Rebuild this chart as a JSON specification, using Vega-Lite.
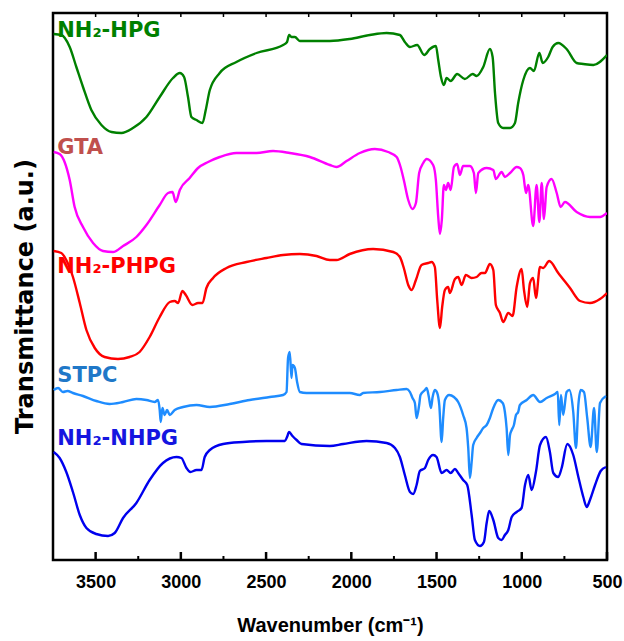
{
"$schema":"https://vega.github.io/schema/vega-lite/v6.json",
"width":554,"height":547,"autosize":"none",
"padding":{"left":53,"top":13,"right":17,"bottom":81},
"background":"white",
"config":{"view":{"stroke":"black","strokeWidth":2.5}},
"datasets":{
"ticks":[
{"w":500,"k":"major"},{"w":750,"k":"minor"},{"w":1000,"k":"major"},{"w":1250,"k":"minor"},{"w":1500,"k":"major"},{"w":1750,"k":"minor"},{"w":2000,"k":"major"},{"w":2250,"k":"minor"},{"w":2500,"k":"major"},{"w":2750,"k":"minor"},{"w":3000,"k":"major"},{"w":3250,"k":"minor"},{"w":3500,"k":"major"}
],
"labels":[
{"label":"NH₂-HPG","s":"HPG","w":3725,"t":523},
{"label":"GTA","s":"GTA","w":3725,"t":406},
{"label":"NH₂-PHPG","s":"PHPG","w":3725,"t":287},
{"label":"STPC","s":"STPC","w":3725,"t":178},
{"label":"NH₂-NHPG","s":"NHPG","w":3725,"t":115}
],
"spectra":[
{"s":"HPG","w":3746,"t":526},{"s":"HPG","w":3701,"t":525},{"s":"HPG","w":3652,"t":513},{"s":"HPG","w":3613,"t":493},{"s":"HPG","w":3574,"t":473},{"s":"HPG","w":3525,"t":450},{"s":"HPG","w":3466,"t":435},{"s":"HPG","w":3407,"t":428},{"s":"HPG","w":3349,"t":427},{"s":"HPG","w":3281,"t":432},{"s":"HPG","w":3202,"t":443},{"s":"HPG","w":3124,"t":463},{"s":"HPG","w":3046,"t":482},{"s":"HPG","w":3006,"t":487},{"s":"HPG","w":2981,"t":483},{"s":"HPG","w":2958,"t":463},{"s":"HPG","w":2938,"t":443},{"s":"HPG","w":2908,"t":440},{"s":"HPG","w":2873,"t":437},{"s":"HPG","w":2854,"t":450},{"s":"HPG","w":2830,"t":470},{"s":"HPG","w":2772,"t":487},{"s":"HPG","w":2674,"t":498},{"s":"HPG","w":2556,"t":507},{"s":"HPG","w":2400,"t":515},{"s":"HPG","w":2377,"t":518},{"s":"HPG","w":2365,"t":525},{"s":"HPG","w":2351,"t":523},{"s":"HPG","w":2331,"t":523},{"s":"HPG","w":2302,"t":519},{"s":"HPG","w":2204,"t":519},{"s":"HPG","w":2126,"t":519},{"s":"HPG","w":2009,"t":521},{"s":"HPG","w":1891,"t":525},{"s":"HPG","w":1793,"t":527},{"s":"HPG","w":1715,"t":525},{"s":"HPG","w":1686,"t":518},{"s":"HPG","w":1656,"t":513},{"s":"HPG","w":1614,"t":515},{"s":"HPG","w":1572,"t":505},{"s":"HPG","w":1539,"t":511},{"s":"HPG","w":1504,"t":514},{"s":"HPG","w":1490,"t":500},{"s":"HPG","w":1474,"t":483},{"s":"HPG","w":1457,"t":475},{"s":"HPG","w":1441,"t":482},{"s":"HPG","w":1417,"t":479},{"s":"HPG","w":1379,"t":486},{"s":"HPG","w":1334,"t":481},{"s":"HPG","w":1288,"t":486},{"s":"HPG","w":1265,"t":484},{"s":"HPG","w":1226,"t":493},{"s":"HPG","w":1187,"t":511},{"s":"HPG","w":1171,"t":503},{"s":"HPG","w":1157,"t":467},{"s":"HPG","w":1138,"t":437},{"s":"HPG","w":1109,"t":432},{"s":"HPG","w":1069,"t":432},{"s":"HPG","w":1040,"t":437},{"s":"HPG","w":1021,"t":457},{"s":"HPG","w":991,"t":480},{"s":"HPG","w":952,"t":492},{"s":"HPG","w":929,"t":489},{"s":"HPG","w":897,"t":507},{"s":"HPG","w":877,"t":497},{"s":"HPG","w":845,"t":503},{"s":"HPG","w":819,"t":513},{"s":"HPG","w":786,"t":517},{"s":"HPG","w":737,"t":511},{"s":"HPG","w":678,"t":497},{"s":"HPG","w":639,"t":496},{"s":"HPG","w":580,"t":495},{"s":"HPG","w":500,"t":505},
{"s":"GTA","w":3746,"t":408},{"s":"GTA","w":3711,"t":406},{"s":"GTA","w":3682,"t":398},{"s":"GTA","w":3652,"t":380},{"s":"GTA","w":3623,"t":353},{"s":"GTA","w":3574,"t":333},{"s":"GTA","w":3515,"t":317},{"s":"GTA","w":3457,"t":309},{"s":"GTA","w":3398,"t":308},{"s":"GTA","w":3339,"t":314},{"s":"GTA","w":3261,"t":323},{"s":"GTA","w":3202,"t":335},{"s":"GTA","w":3124,"t":355},{"s":"GTA","w":3075,"t":367},{"s":"GTA","w":3049,"t":368},{"s":"GTA","w":3030,"t":358},{"s":"GTA","w":3006,"t":370},{"s":"GTA","w":2948,"t":382},{"s":"GTA","w":2899,"t":392},{"s":"GTA","w":2840,"t":398},{"s":"GTA","w":2772,"t":403},{"s":"GTA","w":2674,"t":407},{"s":"GTA","w":2556,"t":407},{"s":"GTA","w":2459,"t":409},{"s":"GTA","w":2361,"t":407},{"s":"GTA","w":2243,"t":403},{"s":"GTA","w":2126,"t":395},{"s":"GTA","w":2087,"t":393},{"s":"GTA","w":2028,"t":399},{"s":"GTA","w":1950,"t":407},{"s":"GTA","w":1862,"t":411},{"s":"GTA","w":1784,"t":408},{"s":"GTA","w":1734,"t":403},{"s":"GTA","w":1711,"t":393},{"s":"GTA","w":1692,"t":380},{"s":"GTA","w":1666,"t":360},{"s":"GTA","w":1641,"t":351},{"s":"GTA","w":1621,"t":357},{"s":"GTA","w":1602,"t":387},{"s":"GTA","w":1578,"t":397},{"s":"GTA","w":1558,"t":401},{"s":"GTA","w":1520,"t":395},{"s":"GTA","w":1504,"t":380},{"s":"GTA","w":1490,"t":343},{"s":"GTA","w":1480,"t":326},{"s":"GTA","w":1469,"t":340},{"s":"GTA","w":1457,"t":375},{"s":"GTA","w":1445,"t":370},{"s":"GTA","w":1432,"t":377},{"s":"GTA","w":1417,"t":370},{"s":"GTA","w":1398,"t":393},{"s":"GTA","w":1379,"t":396},{"s":"GTA","w":1363,"t":385},{"s":"GTA","w":1344,"t":394},{"s":"GTA","w":1304,"t":394},{"s":"GTA","w":1281,"t":387},{"s":"GTA","w":1269,"t":367},{"s":"GTA","w":1255,"t":387},{"s":"GTA","w":1206,"t":392},{"s":"GTA","w":1167,"t":390},{"s":"GTA","w":1152,"t":381},{"s":"GTA","w":1118,"t":388},{"s":"GTA","w":1099,"t":383},{"s":"GTA","w":1069,"t":387},{"s":"GTA","w":1030,"t":393},{"s":"GTA","w":1011,"t":392},{"s":"GTA","w":991,"t":385},{"s":"GTA","w":975,"t":367},{"s":"GTA","w":962,"t":375},{"s":"GTA","w":933,"t":334},{"s":"GTA","w":913,"t":375},{"s":"GTA","w":897,"t":338},{"s":"GTA","w":883,"t":377},{"s":"GTA","w":870,"t":341},{"s":"GTA","w":854,"t":373},{"s":"GTA","w":825,"t":381},{"s":"GTA","w":795,"t":367},{"s":"GTA","w":772,"t":353},{"s":"GTA","w":747,"t":358},{"s":"GTA","w":678,"t":348},{"s":"GTA","w":600,"t":343},{"s":"GTA","w":541,"t":343},{"s":"GTA","w":500,"t":347},
{"s":"PHPG","w":3746,"t":309},{"s":"PHPG","w":3701,"t":307},{"s":"PHPG","w":3672,"t":300},{"s":"PHPG","w":3633,"t":283},{"s":"PHPG","w":3593,"t":257},{"s":"PHPG","w":3554,"t":230},{"s":"PHPG","w":3505,"t":212},{"s":"PHPG","w":3447,"t":203},{"s":"PHPG","w":3369,"t":201},{"s":"PHPG","w":3301,"t":203},{"s":"PHPG","w":3242,"t":208},{"s":"PHPG","w":3183,"t":223},{"s":"PHPG","w":3124,"t":243},{"s":"PHPG","w":3065,"t":258},{"s":"PHPG","w":3036,"t":259},{"s":"PHPG","w":3016,"t":257},{"s":"PHPG","w":2991,"t":269},{"s":"PHPG","w":2971,"t":265},{"s":"PHPG","w":2932,"t":255},{"s":"PHPG","w":2899,"t":257},{"s":"PHPG","w":2873,"t":257},{"s":"PHPG","w":2850,"t":272},{"s":"PHPG","w":2811,"t":282},{"s":"PHPG","w":2732,"t":292},{"s":"PHPG","w":2615,"t":298},{"s":"PHPG","w":2498,"t":302},{"s":"PHPG","w":2400,"t":305},{"s":"PHPG","w":2302,"t":306},{"s":"PHPG","w":2204,"t":304},{"s":"PHPG","w":2126,"t":300},{"s":"PHPG","w":2087,"t":300},{"s":"PHPG","w":2009,"t":306},{"s":"PHPG","w":1872,"t":311},{"s":"PHPG","w":1754,"t":308},{"s":"PHPG","w":1715,"t":303},{"s":"PHPG","w":1692,"t":292},{"s":"PHPG","w":1666,"t":275},{"s":"PHPG","w":1646,"t":270},{"s":"PHPG","w":1621,"t":280},{"s":"PHPG","w":1588,"t":295},{"s":"PHPG","w":1549,"t":297},{"s":"PHPG","w":1529,"t":298},{"s":"PHPG","w":1510,"t":293},{"s":"PHPG","w":1496,"t":260},{"s":"PHPG","w":1480,"t":232},{"s":"PHPG","w":1467,"t":253},{"s":"PHPG","w":1451,"t":270},{"s":"PHPG","w":1432,"t":273},{"s":"PHPG","w":1422,"t":267},{"s":"PHPG","w":1392,"t":281},{"s":"PHPG","w":1373,"t":283},{"s":"PHPG","w":1353,"t":275},{"s":"PHPG","w":1328,"t":285},{"s":"PHPG","w":1294,"t":282},{"s":"PHPG","w":1265,"t":283},{"s":"PHPG","w":1236,"t":287},{"s":"PHPG","w":1216,"t":287},{"s":"PHPG","w":1187,"t":296},{"s":"PHPG","w":1167,"t":290},{"s":"PHPG","w":1152,"t":255},{"s":"PHPG","w":1128,"t":247},{"s":"PHPG","w":1109,"t":238},{"s":"PHPG","w":1079,"t":247},{"s":"PHPG","w":1054,"t":244},{"s":"PHPG","w":1030,"t":273},{"s":"PHPG","w":1001,"t":291},{"s":"PHPG","w":987,"t":270},{"s":"PHPG","w":968,"t":253},{"s":"PHPG","w":952,"t":277},{"s":"PHPG","w":933,"t":282},{"s":"PHPG","w":917,"t":262},{"s":"PHPG","w":893,"t":293},{"s":"PHPG","w":874,"t":292},{"s":"PHPG","w":839,"t":299},{"s":"PHPG","w":786,"t":287},{"s":"PHPG","w":717,"t":272},{"s":"PHPG","w":658,"t":259},{"s":"PHPG","w":600,"t":257},{"s":"PHPG","w":541,"t":261},{"s":"PHPG","w":500,"t":267},
{"s":"STPC","w":3746,"t":170},{"s":"STPC","w":3720,"t":172},{"s":"STPC","w":3692,"t":168},{"s":"STPC","w":3665,"t":169},{"s":"STPC","w":3633,"t":167},{"s":"STPC","w":3574,"t":164},{"s":"STPC","w":3496,"t":159},{"s":"STPC","w":3418,"t":156},{"s":"STPC","w":3339,"t":158},{"s":"STPC","w":3261,"t":161},{"s":"STPC","w":3202,"t":160},{"s":"STPC","w":3153,"t":158},{"s":"STPC","w":3134,"t":160},{"s":"STPC","w":3124,"t":150},{"s":"STPC","w":3118,"t":138},{"s":"STPC","w":3108,"t":152},{"s":"STPC","w":3095,"t":145},{"s":"STPC","w":3081,"t":150},{"s":"STPC","w":3065,"t":145},{"s":"STPC","w":3036,"t":150},{"s":"STPC","w":2987,"t":153},{"s":"STPC","w":2908,"t":155},{"s":"STPC","w":2830,"t":153},{"s":"STPC","w":2713,"t":156},{"s":"STPC","w":2596,"t":160},{"s":"STPC","w":2478,"t":163},{"s":"STPC","w":2400,"t":165},{"s":"STPC","w":2380,"t":168},{"s":"STPC","w":2371,"t":202},{"s":"STPC","w":2361,"t":208},{"s":"STPC","w":2351,"t":182},{"s":"STPC","w":2345,"t":195},{"s":"STPC","w":2331,"t":192},{"s":"STPC","w":2318,"t":178},{"s":"STPC","w":2302,"t":168},{"s":"STPC","w":2263,"t":167},{"s":"STPC","w":2126,"t":167},{"s":"STPC","w":2009,"t":167},{"s":"STPC","w":1950,"t":165},{"s":"STPC","w":1931,"t":167},{"s":"STPC","w":1832,"t":168},{"s":"STPC","w":1734,"t":170},{"s":"STPC","w":1676,"t":171},{"s":"STPC","w":1656,"t":168},{"s":"STPC","w":1641,"t":162},{"s":"STPC","w":1627,"t":157},{"s":"STPC","w":1617,"t":142},{"s":"STPC","w":1602,"t":155},{"s":"STPC","w":1594,"t":165},{"s":"STPC","w":1568,"t":170},{"s":"STPC","w":1558,"t":172},{"s":"STPC","w":1545,"t":163},{"s":"STPC","w":1533,"t":152},{"s":"STPC","w":1523,"t":163},{"s":"STPC","w":1510,"t":170},{"s":"STPC","w":1496,"t":167},{"s":"STPC","w":1484,"t":155},{"s":"STPC","w":1470,"t":118},{"s":"STPC","w":1461,"t":142},{"s":"STPC","w":1451,"t":160},{"s":"STPC","w":1426,"t":165},{"s":"STPC","w":1398,"t":163},{"s":"STPC","w":1373,"t":158},{"s":"STPC","w":1344,"t":145},{"s":"STPC","w":1324,"t":132},{"s":"STPC","w":1314,"t":112},{"s":"STPC","w":1304,"t":82},{"s":"STPC","w":1294,"t":98},{"s":"STPC","w":1285,"t":115},{"s":"STPC","w":1265,"t":122},{"s":"STPC","w":1245,"t":127},{"s":"STPC","w":1226,"t":132},{"s":"STPC","w":1206,"t":135},{"s":"STPC","w":1187,"t":142},{"s":"STPC","w":1167,"t":152},{"s":"STPC","w":1138,"t":160},{"s":"STPC","w":1112,"t":157},{"s":"STPC","w":1099,"t":148},{"s":"STPC","w":1089,"t":132},{"s":"STPC","w":1079,"t":105},{"s":"STPC","w":1069,"t":125},{"s":"STPC","w":1059,"t":130},{"s":"STPC","w":1046,"t":135},{"s":"STPC","w":1034,"t":145},{"s":"STPC","w":1021,"t":148},{"s":"STPC","w":1011,"t":155},{"s":"STPC","w":971,"t":160},{"s":"STPC","w":933,"t":165},{"s":"STPC","w":893,"t":158},{"s":"STPC","w":854,"t":162},{"s":"STPC","w":805,"t":166},{"s":"STPC","w":789,"t":168},{"s":"STPC","w":780,"t":135},{"s":"STPC","w":770,"t":165},{"s":"STPC","w":757,"t":145},{"s":"STPC","w":737,"t":168},{"s":"STPC","w":721,"t":170},{"s":"STPC","w":698,"t":148},{"s":"STPC","w":682,"t":112},{"s":"STPC","w":668,"t":155},{"s":"STPC","w":654,"t":170},{"s":"STPC","w":635,"t":168},{"s":"STPC","w":616,"t":142},{"s":"STPC","w":596,"t":113},{"s":"STPC","w":576,"t":152},{"s":"STPC","w":560,"t":108},{"s":"STPC","w":541,"t":157},{"s":"STPC","w":506,"t":164},
{"s":"NHPG","w":3746,"t":108},{"s":"NHPG","w":3711,"t":102},{"s":"NHPG","w":3672,"t":88},{"s":"NHPG","w":3633,"t":68},{"s":"NHPG","w":3593,"t":45},{"s":"NHPG","w":3554,"t":32},{"s":"NHPG","w":3496,"t":26},{"s":"NHPG","w":3427,"t":24},{"s":"NHPG","w":3388,"t":27},{"s":"NHPG","w":3339,"t":42},{"s":"NHPG","w":3261,"t":57},{"s":"NHPG","w":3183,"t":80},{"s":"NHPG","w":3105,"t":97},{"s":"NHPG","w":3026,"t":103},{"s":"NHPG","w":2997,"t":102},{"s":"NHPG","w":2967,"t":92},{"s":"NHPG","w":2944,"t":88},{"s":"NHPG","w":2908,"t":90},{"s":"NHPG","w":2879,"t":90},{"s":"NHPG","w":2860,"t":103},{"s":"NHPG","w":2830,"t":110},{"s":"NHPG","w":2752,"t":116},{"s":"NHPG","w":2635,"t":118},{"s":"NHPG","w":2498,"t":119},{"s":"NHPG","w":2390,"t":119},{"s":"NHPG","w":2377,"t":123},{"s":"NHPG","w":2365,"t":128},{"s":"NHPG","w":2345,"t":124},{"s":"NHPG","w":2321,"t":120},{"s":"NHPG","w":2292,"t":116},{"s":"NHPG","w":2126,"t":114},{"s":"NHPG","w":2048,"t":116},{"s":"NHPG","w":1911,"t":119},{"s":"NHPG","w":1793,"t":117},{"s":"NHPG","w":1744,"t":112},{"s":"NHPG","w":1715,"t":103},{"s":"NHPG","w":1686,"t":85},{"s":"NHPG","w":1656,"t":68},{"s":"NHPG","w":1637,"t":66},{"s":"NHPG","w":1617,"t":75},{"s":"NHPG","w":1598,"t":89},{"s":"NHPG","w":1568,"t":92},{"s":"NHPG","w":1549,"t":100},{"s":"NHPG","w":1520,"t":105},{"s":"NHPG","w":1500,"t":103},{"s":"NHPG","w":1470,"t":87},{"s":"NHPG","w":1441,"t":90},{"s":"NHPG","w":1417,"t":87},{"s":"NHPG","w":1392,"t":91},{"s":"NHPG","w":1373,"t":87},{"s":"NHPG","w":1344,"t":80},{"s":"NHPG","w":1320,"t":75},{"s":"NHPG","w":1294,"t":45},{"s":"NHPG","w":1275,"t":20},{"s":"NHPG","w":1245,"t":14},{"s":"NHPG","w":1222,"t":18},{"s":"NHPG","w":1206,"t":37},{"s":"NHPG","w":1191,"t":49},{"s":"NHPG","w":1167,"t":40},{"s":"NHPG","w":1138,"t":22},{"s":"NHPG","w":1118,"t":20},{"s":"NHPG","w":1099,"t":25},{"s":"NHPG","w":1079,"t":30},{"s":"NHPG","w":1059,"t":43},{"s":"NHPG","w":1030,"t":48},{"s":"NHPG","w":1001,"t":52},{"s":"NHPG","w":981,"t":75},{"s":"NHPG","w":962,"t":85},{"s":"NHPG","w":942,"t":70},{"s":"NHPG","w":917,"t":88},{"s":"NHPG","w":893,"t":115},{"s":"NHPG","w":858,"t":123},{"s":"NHPG","w":835,"t":108},{"s":"NHPG","w":815,"t":87},{"s":"NHPG","w":786,"t":83},{"s":"NHPG","w":766,"t":92},{"s":"NHPG","w":733,"t":116},{"s":"NHPG","w":698,"t":105},{"s":"NHPG","w":668,"t":83},{"s":"NHPG","w":639,"t":63},{"s":"NHPG","w":619,"t":53},{"s":"NHPG","w":600,"t":60},{"s":"NHPG","w":570,"t":75},{"s":"NHPG","w":537,"t":89},{"s":"NHPG","w":506,"t":93}
]},
"layer":[
{"data":{"name":"spectra"},
 "mark":{"type":"line","strokeWidth":2.4,"clip":true,"interpolate":"monotone"},
 "encoding":{
  "x":{"field":"w","type":"quantitative","scale":{"domain":[500,3750],"reverse":true,"nice":false,"zero":false},
   "axis":{"orient":"bottom","values":[500,1000,1500,2000,2500,3000,3500],"format":"d",
    "domain":false,"grid":false,"ticks":false,
    "labelFont":"Liberation Sans","labelFontWeight":"bold","labelFontSize":18,"labelColor":"black","labelPadding":13,"labelFlush":false,
    "title":"Wavenumber (cm⁻¹)","titleFont":"Liberation Sans","titleFontWeight":"bold","titleFontSize":20,"titleColor":"black","titlePadding":24}},
  "y":{"field":"t","type":"quantitative","scale":{"domain":[0,547],"nice":false,"zero":false},
   "axis":{"labels":false,"ticks":false,"domain":false,"grid":false,"title":"Transmittance (a.u.)","titleFont":"DejaVu Sans","titleFontWeight":"bold","titleFontSize":24,"titleColor":"black","titlePadding":16,"titleY":283}},
  "color":{"field":"s","type":"nominal","scale":{"domain":["HPG","GTA","PHPG","STPC","NHPG"],"range":["#008000","#FF00FF","#FF0000","#1E8CFF","#0000EE"]},"legend":null}
 }},
{"data":{"name":"ticks"},"transform":[{"filter":"datum.k === 'major'"}],
 "mark":{"type":"rule","color":"black","strokeWidth":2.5},
 "encoding":{"x":{"field":"w","type":"quantitative","axis":null},"y":{"datum":0},"y2":{"datum":8}}},
{"data":{"name":"ticks"},"transform":[{"filter":"datum.k === 'minor'"}],
 "mark":{"type":"rule","color":"black","strokeWidth":2},
 "encoding":{"x":{"field":"w","type":"quantitative","axis":null},"y":{"datum":0},"y2":{"datum":4}}},
{"data":{"name":"ticks"},
 "mark":{"type":"rule","color":"black","strokeWidth":1.5},
 "encoding":{"x":{"field":"w","type":"quantitative","axis":null},"y":{"datum":547},"y2":{"datum":543}}},
{"data":{"name":"labels"},
 "mark":{"type":"text","align":"left","baseline":"alphabetic","font":"DejaVu Sans","fontWeight":"bold","fontSize":21},
 "encoding":{
  "x":{"field":"w","type":"quantitative","axis":null},
  "y":{"field":"t","type":"quantitative"},
  "text":{"field":"label"},
  "color":{"field":"s","type":"nominal","scale":{"domain":["HPG","GTA","PHPG","STPC","NHPG"],"range":["#008000","#C0504D","#FF0000","#1F78C8","#1515E0"]},"legend":null}
 }}
],
"resolve":{"axis":{"x":"independent"},"scale":{"color":"independent"}}
}
